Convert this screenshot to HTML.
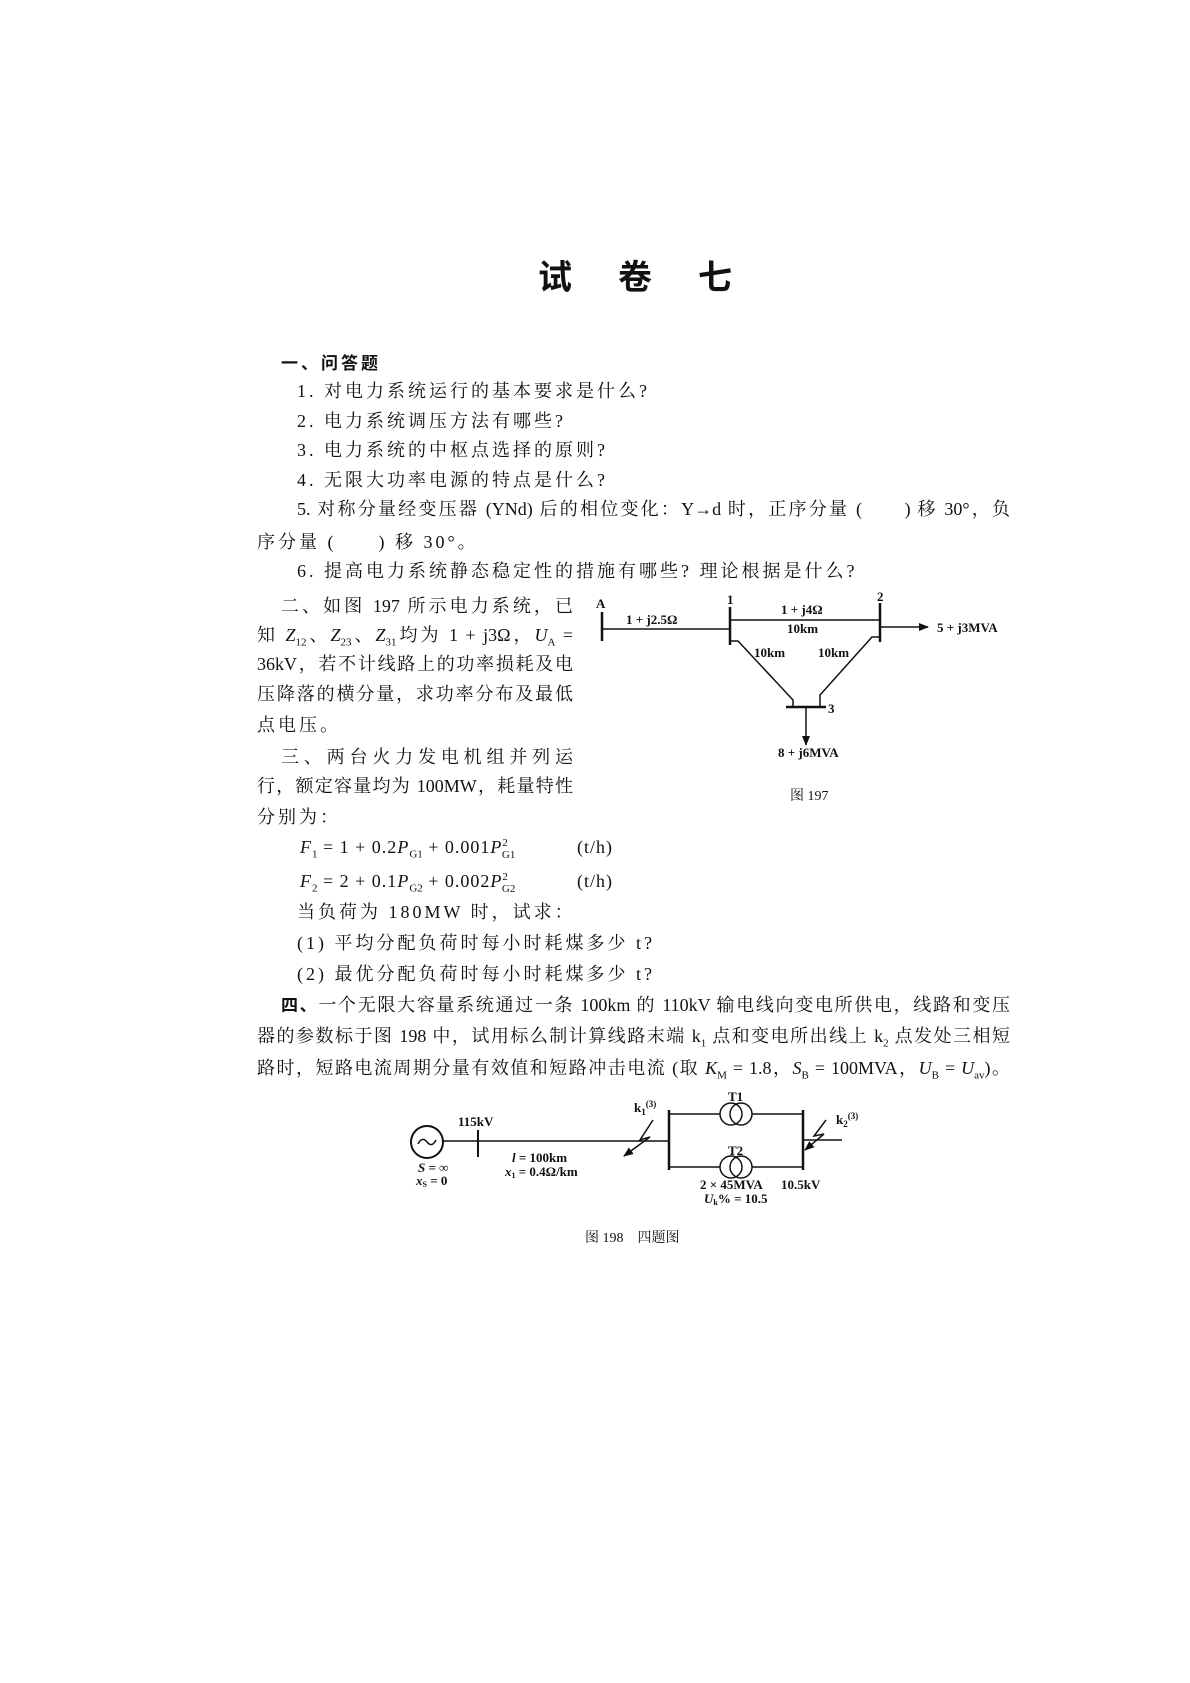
<!DOCTYPE html>
<html><head><meta charset="utf-8">
<style>
html,body{margin:0;padding:0;background:#fff;}
body{width:1190px;height:1683px;position:relative;overflow:hidden;font-family:"Liberation Serif","Noto Serif CJK SC","Noto Sans CJK SC",serif;color:#111;}
.l{position:absolute;font-size:18px;line-height:22px;height:22px;letter-spacing:3px;white-space:nowrap;}
.j{text-align:justify;text-align-last:justify;letter-spacing:0;white-space:normal;}
.b{font-weight:bold;font-family:"Noto Sans CJK SC",sans-serif;}
sub,sup{font-size:11px;letter-spacing:0;line-height:0;}
i{font-style:italic;}
svg text{font-family:"Liberation Serif",serif;fill:#111;}
</style></head><body>

<div style="position:absolute;left:538px;top:250px;font-size:34px;font-weight:bold;font-family:'Noto Sans CJK SC',sans-serif;letter-spacing:46px;white-space:nowrap;">试卷七</div>

<div class="l b" style="left:281px;top:351px;font-size:17px;">一、问答题</div>
<div class="l" style="left:297px;top:380px;">1. 对电力系统运行的基本要求是什么?</div>
<div class="l" style="left:297px;top:410px;">2. 电力系统调压方法有哪些?</div>
<div class="l" style="left:297px;top:439px;">3. 电力系统的中枢点选择的原则?</div>
<div class="l" style="left:297px;top:469px;">4. 无限大功率电源的特点是什么?</div>
<div class="l j" style="left:297px;top:498px;width:713px;">5. 对称分量经变压器 (YNd) 后的相位变化：Y→d 时，正序分量 (　　) 移 30°，负</div>
<div class="l" style="left:257px;top:531px;">序分量 (　　) 移 30°。</div>
<div class="l" style="left:297px;top:560px;">6. 提高电力系统静态稳定性的措施有哪些? 理论根据是什么?</div>

<div class="l j" style="left:281px;top:595px;width:292px;">二、如图 197 所示电力系统，已</div>
<div class="l j" style="left:257px;top:624px;width:316px;">知 <i>Z</i><sub>12</sub>、<i>Z</i><sub>23</sub>、<i>Z</i><sub>31</sub>均为 1 + j3Ω，<i>U</i><sub>A</sub> =</div>
<div class="l j" style="left:257px;top:653px;width:316px;">36kV，若不计线路上的功率损耗及电</div>
<div class="l j" style="left:257px;top:683px;width:316px;">压降落的横分量，求功率分布及最低</div>
<div class="l" style="left:257px;top:714px;">点电压。</div>
<div class="l j" style="left:281px;top:746px;width:292px;">三、两台火力发电机组并列运</div>
<div class="l j" style="left:257px;top:775px;width:316px;">行，额定容量均为 100MW，耗量特性</div>
<div class="l" style="left:257px;top:806px;">分别为：</div>
<div class="l" style="left:300px;top:836px;letter-spacing:1px;"><i>F</i><sub>1</sub> = 1 + 0.2<i>P</i><sub>G1</sub> + 0.001<i>P</i><sup>2</sup><sub style="margin-left:-6px">G1</sub></div>
<div class="l" style="left:577px;top:836px;letter-spacing:1px;">(t/h)</div>
<div class="l" style="left:300px;top:870px;letter-spacing:1px;"><i>F</i><sub>2</sub> = 2 + 0.1<i>P</i><sub>G2</sub> + 0.002<i>P</i><sup>2</sup><sub style="margin-left:-6px">G2</sub></div>
<div class="l" style="left:577px;top:870px;letter-spacing:1px;">(t/h)</div>
<div class="l" style="left:297px;top:901px;">当负荷为 180MW 时，试求：</div>
<div class="l" style="left:297px;top:932px;">(1) 平均分配负荷时每小时耗煤多少 t?</div>
<div class="l" style="left:297px;top:963px;">(2) 最优分配负荷时每小时耗煤多少 t?</div>
<div class="l j" style="left:281px;top:993px;width:729px;"><b class="b" style="font-size:17px">四、</b>一个无限大容量系统通过一条 100km 的 110kV 输电线向变电所供电，线路和变压</div>
<div class="l j" style="left:257px;top:1025px;width:753px;">器的参数标于图 198 中，试用标么制计算线路末端 k<sub>1</sub> 点和变电所出线上 k<sub>2</sub> 点发处三相短</div>
<div class="l j" style="left:257px;top:1057px;width:753px;">路时，短路电流周期分量有效值和短路冲击电流 (取 <i>K</i><sub>M</sub> = 1.8，<i>S</i><sub>B</sub> = 100MVA，<i>U</i><sub>B</sub> = <i>U</i><sub>av</sub>)。</div>

<svg width="1190" height="1683" style="position:absolute;left:0;top:0" xmlns="http://www.w3.org/2000/svg">
<defs><marker id="ar" markerWidth="10" markerHeight="8" refX="9" refY="4" orient="auto" markerUnits="userSpaceOnUse"><path d="M0,0 L10,4 L0,8 z" fill="#111"/></marker></defs>
<g stroke="#111" fill="none" stroke-width="1.5">
<line x1="602" y1="612" x2="602" y2="641" stroke-width="2.5"/>
<line x1="602" y1="629" x2="730" y2="629"/>
<line x1="730" y1="607" x2="730" y2="645" stroke-width="2.5"/>
<line x1="730" y1="620" x2="880" y2="620"/>
<line x1="880" y1="603" x2="880" y2="642" stroke-width="2.5"/>
<line x1="880" y1="627" x2="928" y2="627" marker-end="url(#ar)"/>
<polyline points="730,641 738,641 793,700 793,707"/>
<polyline points="880,637 872,637 820,695 820,707"/>
<line x1="786" y1="707" x2="826" y2="707" stroke-width="2.5"/>
<line x1="806" y1="707" x2="806" y2="745" marker-end="url(#ar)"/>
</g>
<g font-size="13" font-weight="bold">
<text x="596" y="608">A</text>
<text x="626" y="624">1 + j2.5Ω</text>
<text x="727" y="604">1</text>
<text x="781" y="614">1 + j4Ω</text>
<text x="787" y="633">10km</text>
<text x="877" y="601">2</text>
<text x="937" y="632">5 + j3MVA</text>
<text x="754" y="657">10km</text>
<text x="818" y="657">10km</text>
<text x="828" y="713">3</text>
<text x="778" y="757">8 + j6MVA</text>
</g>
<text x="790" y="800" font-size="14" style="font-family:'Liberation Serif','Noto Serif CJK SC',serif">图 197</text>

<g stroke="#111" fill="none" stroke-width="1.5">
<circle cx="427" cy="1142" r="16" stroke-width="2"/>
<path d="M418,1144 q4,-8 9,-2 q5,6 9,-2"/>
<line x1="443" y1="1141" x2="669" y2="1141"/>
<line x1="478" y1="1130" x2="478" y2="1157" stroke-width="2"/>
<line x1="669" y1="1110" x2="669" y2="1170" stroke-width="2.5"/>
<line x1="669" y1="1114" x2="720" y2="1114"/>
<circle cx="731" cy="1114" r="11"/><circle cx="741" cy="1114" r="11"/>
<line x1="752" y1="1114" x2="803" y2="1114"/>
<line x1="669" y1="1167" x2="720" y2="1167"/>
<circle cx="731" cy="1167" r="11"/><circle cx="741" cy="1167" r="11"/>
<line x1="752" y1="1167" x2="803" y2="1167"/>
<line x1="803" y1="1110" x2="803" y2="1170" stroke-width="2.5"/>
<line x1="803" y1="1140" x2="842" y2="1140"/>
<polyline points="653,1120 640,1140 650,1137 624,1156" marker-end="url(#ar)"/>
<polyline points="826,1120 814,1136 824,1134 805,1150" marker-end="url(#ar)"/>
</g>
<g font-size="13" font-weight="bold">
<text x="458" y="1126">115kV</text>
<text x="634" y="1112">k<tspan font-size="9" dy="3">1</tspan><tspan font-size="9" dy="-8">(3)</tspan></text>
<text x="728" y="1101">T1</text>
<text x="728" y="1155">T2</text>
<text x="836" y="1124">k<tspan font-size="9" dy="3">2</tspan><tspan font-size="9" dy="-8">(3)</tspan></text>
<text x="418" y="1172"><tspan font-style="italic">S</tspan> = ∞</text>
<text x="416" y="1185"><tspan font-style="italic">x</tspan><tspan font-size="8" dy="2">S</tspan><tspan dy="-2"> = 0</tspan></text>
<text x="512" y="1162"><tspan font-style="italic">l</tspan> = 100km</text>
<text x="505" y="1176"><tspan font-style="italic">x</tspan><tspan font-size="8" dy="2">1</tspan><tspan dy="-2"> = 0.4Ω/km</tspan></text>
<text x="700" y="1189">2 × 45MVA</text>
<text x="781" y="1189">10.5kV</text>
<text x="704" y="1203"><tspan font-style="italic">U</tspan><tspan font-size="8" dy="2">k</tspan><tspan dy="-2">% = 10.5</tspan></text>
</g>
<text x="585" y="1242" font-size="14" style="font-family:'Liberation Serif','Noto Serif CJK SC',serif">图 198　四题图</text>
</svg>
</body></html>
